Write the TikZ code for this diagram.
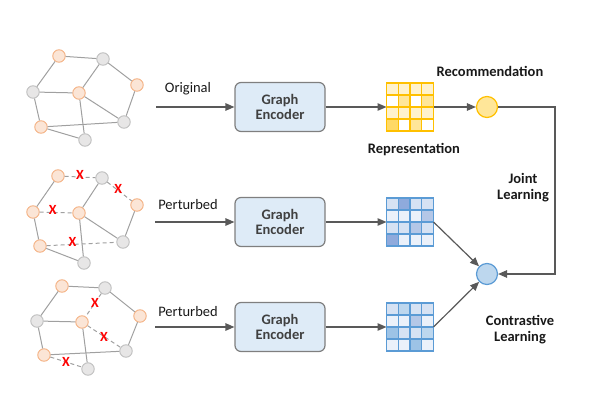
\documentclass[tikz,border=0pt]{standalone}
\usepackage{fontspec}
\setmainfont{Carlito}
\usepackage{tikz}
\usetikzlibrary{positioning, arrows.meta, calc}
\definecolor{NodeOrange}{RGB}{251,229,214}
\definecolor{NodeOrangeLine}{RGB}{244,177,131}
\definecolor{NodeGrey}{RGB}{231,230,230}
\definecolor{NodeGreyLine}{RGB}{191,191,191}
\definecolor{EdgeGrey}{RGB}{160,160,160}
\definecolor{ArrowGrey}{RGB}{89,89,89}
\definecolor{EncFill}{RGB}{222,235,247}
\definecolor{EncLine}{RGB}{127,127,127}
\definecolor{GoldLine}{RGB}{255,192,0}
\definecolor{BlueLine}{RGB}{91,155,213}
\definecolor{Yel0}{RGB}{255,255,255}
\definecolor{Yel1}{RGB}{255,242,204}
\definecolor{Yel2}{RGB}{255,230,153}
\definecolor{Yel3}{RGB}{255,217,102}
\definecolor{Blu0}{RGB}{235,241,250}
\definecolor{Blu1}{RGB}{214,226,243}
\definecolor{Blu2}{RGB}{180,199,231}
\definecolor{Blu3}{RGB}{143,170,220}
\definecolor{Blu4}{RGB}{189,215,238}
\definecolor{Blu5}{RGB}{157,195,230}
\newcommand\figfont{\fontsize{14.5}{17}\selectfont}
\tikzset{
  gnode/.style={circle, minimum size=12.5pt, inner sep=0pt, line width=0.9pt},
  onode/.style={gnode, draw=NodeOrangeLine, fill=NodeOrange},
  ynode/.style={gnode, draw=NodeGreyLine, fill=NodeGrey},
  link/.style={draw=EdgeGrey, line width=1pt},
  cutlink/.style={link, dash pattern=on 4pt off 3pt},
  cutmark/.style={text=red, font=\bfseries\fontsize{14}{14}\selectfont, inner sep=0pt},
  encoder/.style={draw=EncLine, fill=EncFill, rounded corners=6pt, line width=1.2pt,
    minimum width=90pt, minimum height=49pt, align=center, inner sep=0pt,
    font=\bfseries\figfont, text=black!75},
  matbox/.style={minimum width=47pt, minimum height=48pt, inner sep=0pt, outer sep=0pt},
  scorenode/.style={circle, minimum size=21pt, inner sep=0pt, line width=1.2pt},
  flow/.style={-{Triangle[length=9pt,width=7.5pt]}, line width=1.2pt, ArrowGrey},
  flowlabel/.style={font=\figfont, text=black!90},
  boldlabel/.style={font=\bfseries\figfont, text=black!90, align=center},
}
% #1 node name, #2 colour prefix, #3 line colour, #4 cell levels
\newcommand\repgrid[4]{%
  \foreach \lv [count=\i from 0] in {#4} {
    \pgfmathtruncatemacro\col{mod(\i,4)}
    \pgfmathtruncatemacro\row{div(\i,4)}
    \fill[#2\lv] ($(#1.north west)+(\col*11.75,\row*12)$) rectangle ++(11.75,12);
  }
  \foreach \k in {1,2,3} {
    \draw[#3, line width=1.2pt] ($(#1.north west)+(\k*11.75,0)$) -- ++(0,48);
    \draw[#3, line width=1.2pt] ($(#1.north west)+(0,\k*12)$) -- ++(47,0);
  }
  \draw[#3, line width=1.5pt] (#1.north west) rectangle (#1.south east);
}

\begin{document}
\begin{tikzpicture}[x=1pt, y=-1pt]
  \useasboundingbox (0,0) rectangle (599,401);

  % original graph
  \foreach \n/\x/\y/\s in {a/59/56/onode, b/103/59/ynode, c/137/85/onode, d/33/92/ynode,
      e/79/93/onode, f/124/122/ynode, g/41/127/onode, h/85/140/ynode}
    \node[\s] (g1\n) at (\x,\y) {};
  \foreach \u/\v in {a/b, b/c, a/d, d/e, b/e, e/f, c/f, d/g, g/f, g/h, e/h}
    \draw[link] (g1\u) -- (g1\v);

  % perturbed graph 1
  \foreach \n/\x/\y/\s in {a/58/176/onode, b/102/178/ynode, c/137/205/onode, d/33/212/onode,
      e/79/213/onode, f/123/242/ynode, g/40/246/onode, h/84/263/ynode}
    \node[\s] (g2\n) at (\x,\y) {};
  \foreach \u/\v in {a/d, b/e, e/f, c/f, d/g, g/h, e/h}
    \draw[link] (g2\u) -- (g2\v);
  \foreach \u/\v/\p in {a/b/0.5, b/c/0.45, d/e/0.4, g/f/0.37}
    \draw[cutlink] (g2\u) -- node[cutmark, pos=\p, yshift=2pt] {X} (g2\v);

  % perturbed graph 2
  \foreach \n/\x/\y/\s in {a/62/286/onode, b/105/288/ynode, c/140/316/onode, d/37/321/ynode,
      e/82/322/onode, f/126/351/ynode, g/44/355/onode, h/88/369/ynode}
    \node[\s] (g3\n) at (\x,\y) {};
  \foreach \u/\v in {a/b, b/c, a/d, d/e, c/f, d/g, g/f, e/h}
    \draw[link] (g3\u) -- (g3\v);
  \foreach \u/\v/\p in {b/e/0.4, e/f/0.5, g/h/0.5}
    \draw[cutlink] (g3\u) -- node[cutmark, pos=\p] {X} (g3\v);

  % encoders
  \node[encoder] (enc1) at (280,107) {Graph\\[-2pt]Encoder};
  \node[encoder] (enc2) at (280,222) {Graph\\[-2pt]Encoder};
  \node[encoder] (enc3) at (280,327) {Graph\\[-2pt]Encoder};
  \coordinate (in1) at (156,107);
  \coordinate (in2) at (155,222);
  \coordinate (in3) at (155,327);
  \draw[flow] (in1) -- (enc1.west);
  \draw[flow] (in2) -- (enc2.west);
  \draw[flow] (in3) -- (enc3.west);
  \node[flowlabel] at (188,89) {Original};
  \node[flowlabel] at (188,205) {Perturbed};
  \node[flowlabel] at (188,312) {Perturbed};

  % representations
  \node[matbox] (rep1) at (410,107) {};
  \node[matbox] (rep2) at (410,222) {};
  \node[matbox] (rep3) at (410,327) {};
  \repgrid{rep1}{Yel}{GoldLine}{1,1,1,1, 0,2,0,2, 1,1,1,1, 3,0,2,0}
  \repgrid{rep2}{Blu}{BlueLine}{1,3,1,1, 0,0,0,2, 1,1,2,1, 3,0,0,0}
  \repgrid{rep3}{Blu}{BlueLine}{1,4,1,1, 0,0,2,0, 5,1,1,4, 0,0,5,0}
  \draw[flow] (enc1.east) -- (rep1.west);
  \draw[flow] (enc2.east) -- (rep2.west);
  \draw[flow] (enc3.east) -- (rep3.west);
  \node[boldlabel] at (414,150) {Representation};

  % tasks
  \node[scorenode, draw=GoldLine, fill=Yel2] (rec) at (487,107) {};
  \node[scorenode, draw=BlueLine, fill=Blu4] (cl) at (487,274) {};
  \coordinate (turn) at (555,107);
  \draw[flow] (rep1.east) -- (rec.west);
  \draw[flow] (rec.east) -- (turn) |- (cl.east);
  \draw[flow] (rep2.east) -- (cl);
  \draw[flow] (rep3.east) -- (cl);
  \node[boldlabel] at (490,71) {Recommendation};
  \node[boldlabel] at (523,188) {Joint\\[-1pt]Learning};
  \node[boldlabel] at (520,330) {Contrastive\\[-1pt]Learning};
\end{tikzpicture}
\end{document}
